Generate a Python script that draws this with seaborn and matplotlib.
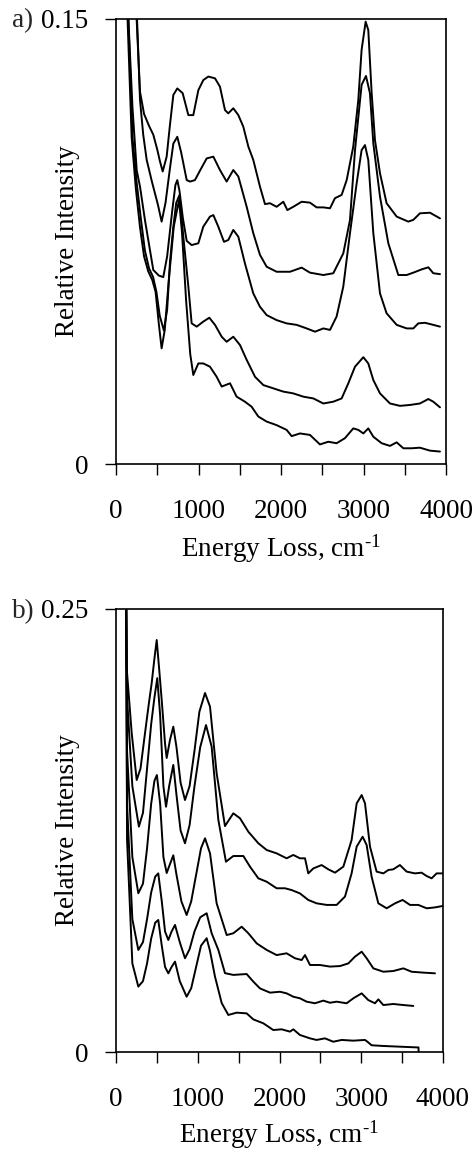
import matplotlib
matplotlib.use("Agg")
import matplotlib.pyplot as plt
import seaborn as sns

# ---------------- Panel a data (energy loss cm^-1, relative intensity) ----------------
a1_x = [150, 200, 250, 291, 340, 400, 452, 500, 533, 566, 614, 654, 695, 743, 808, 877, 937, 998, 1058, 1119,
        1200, 1260, 1321, 1361, 1422, 1483, 1543, 1604, 1664, 1745, 1806, 1866, 1947, 2028, 2077, 2149, 2250, 2351,
        2432, 2513, 2594, 2654, 2735, 2796, 2876, 2937, 2977, 3026, 3058, 3099, 3139, 3200, 3280, 3402, 3543, 3604,
        3684, 3806, 3927]
a1_y = [0.30, 0.19, 0.150, 0.1255, 0.118, 0.114, 0.111, 0.106, 0.102, 0.0986, 0.1036, 0.1143, 0.1244, 0.1266,
        0.125, 0.1176, 0.1176, 0.126, 0.1294, 0.1306, 0.130, 0.1272, 0.1193, 0.1182, 0.1199, 0.1176, 0.1137, 0.107,
        0.1025, 0.0935, 0.0876, 0.0879, 0.0867, 0.0884, 0.0856, 0.0867, 0.0884, 0.0881, 0.0865, 0.0865, 0.0862,
        0.0896, 0.0907, 0.0957, 0.107, 0.1227, 0.1396, 0.1491, 0.1463, 0.125, 0.1092, 0.098, 0.0879, 0.0834, 0.0817,
        0.0823, 0.0845, 0.0847, 0.0828]

a2_x = [150, 210, 255, 291, 330, 372, 436, 509, 553, 600, 654, 695, 743, 790, 857, 897, 957, 1020, 1099, 1180,
        1260, 1341, 1422, 1483, 1584, 1664, 1745, 1826, 1947, 2109, 2250, 2351, 2513, 2634, 2755, 2836, 2897, 2977,
        3030, 3078, 3119, 3200, 3301, 3422, 3523, 3604, 3705, 3786, 3846, 3927]
a2_y = [0.30, 0.18, 0.150, 0.1227, 0.111, 0.1025, 0.0951, 0.0873, 0.0817, 0.088, 0.0997, 0.108, 0.1103, 0.105,
        0.0957, 0.0952, 0.0957, 0.099, 0.103, 0.1036, 0.0991, 0.0952, 0.0991, 0.0969, 0.0867, 0.0778, 0.0705,
        0.0665, 0.0648, 0.0648, 0.0662, 0.0645, 0.0637, 0.0643, 0.071, 0.0822, 0.1058, 0.1278, 0.1308, 0.125,
        0.1081, 0.0901, 0.0744, 0.0637, 0.0637, 0.0645, 0.0656, 0.0663, 0.0643, 0.0640]

a3_x = [110, 150, 200, 251, 291, 351, 452, 520, 573, 620, 680, 720, 743, 770, 810, 857, 917, 998, 1058, 1139,
        1180, 1240, 1309, 1361, 1422, 1483, 1563, 1664, 1745, 1826, 1947, 2068, 2190, 2311, 2412, 2513, 2594, 2674,
        2755, 2836, 2917, 2977, 3018, 3058, 3119, 3200, 3280, 3402, 3523, 3604, 3664, 3745, 3846, 3927]
a3_y = [0.30, 0.15, 0.12, 0.099, 0.0935, 0.0822, 0.0654, 0.0635, 0.063, 0.07, 0.085, 0.094, 0.0957, 0.092, 0.083,
        0.0752, 0.0738, 0.0744, 0.080, 0.0834, 0.0839, 0.080, 0.0749, 0.0755, 0.0789, 0.0766, 0.0676, 0.0575, 0.053,
        0.0502, 0.0485, 0.0474, 0.0469, 0.0457, 0.0446, 0.0457, 0.0452, 0.0497, 0.0598, 0.0778, 0.0946, 0.1058,
        0.1075, 0.1025, 0.0778, 0.0575, 0.0508, 0.0469, 0.0457, 0.0457, 0.0474, 0.0476, 0.0469, 0.0463]

a4_x = [110, 150, 200, 250, 300, 350, 400, 450, 490, 530, 580, 620, 654, 695, 730, 770, 816, 877, 917, 978,
        1058, 1131, 1200, 1281, 1341, 1422, 1503, 1584, 1685, 1786, 1907, 2028, 2149, 2270, 2392, 2513, 2634, 2735,
        2816, 2897, 2998, 3058, 3119, 3200, 3321, 3442, 3563, 3684, 3786, 3846, 3927]
a4_y = [0.30, 0.15, 0.11, 0.095, 0.083, 0.072, 0.066, 0.063, 0.058, 0.05, 0.045, 0.052, 0.068, 0.080, 0.088,
        0.0907, 0.0766, 0.0598, 0.0474, 0.0463, 0.048, 0.0493, 0.0469, 0.0429, 0.0412, 0.0429, 0.0401, 0.0351,
        0.0294, 0.0266, 0.0255, 0.0244, 0.0238, 0.0227, 0.0221, 0.0204, 0.021, 0.0221, 0.0272, 0.0328, 0.036,
        0.0339, 0.0283, 0.0238, 0.0204, 0.0196, 0.0199, 0.0204, 0.0219, 0.021, 0.0191]

a5_x = [100, 140, 190, 240, 290, 340, 390, 440, 480, 520, 553, 590, 640, 700, 764, 800, 850, 900, 937, 998,
        1058, 1139, 1220, 1281, 1382, 1462, 1563, 1644, 1725, 1826, 1947, 2068, 2129, 2230, 2351, 2472, 2573, 2674,
        2775, 2876, 2937, 2998, 3058, 3119, 3220, 3321, 3402, 3483, 3583, 3684, 3806, 3927]
a5_y = [0.30, 0.15, 0.11, 0.093, 0.08, 0.07, 0.065, 0.062, 0.058, 0.047, 0.039, 0.045, 0.062, 0.080, 0.089,
        0.078, 0.055, 0.037, 0.030, 0.0339, 0.0339, 0.0328, 0.0294, 0.0261, 0.0272, 0.0227, 0.021, 0.0193, 0.016,
        0.0143, 0.0131, 0.0115, 0.0094, 0.0103, 0.0098, 0.0066, 0.0075, 0.007, 0.0087, 0.012, 0.0115, 0.0103,
        0.012, 0.0092, 0.007, 0.0061, 0.0073, 0.0053, 0.0053, 0.0055, 0.0045, 0.0042]

# ---------------- Panel b data ----------------
b1_x = [100, 125, 130, 192, 253, 300, 355, 400, 436, 470, 498, 530, 559, 600, 620, 660, 701, 740, 790, 844,
        900, 960, 1020, 1089, 1150, 1231, 1333, 1435, 1517, 1619, 1741, 1843, 1965, 2087, 2169, 2250, 2312, 2352,
        2414, 2515, 2597, 2679, 2781, 2882, 2944, 3005, 3046, 3107, 3188, 3270, 3331, 3392, 3473, 3555, 3657,
        3738, 3800, 3861, 3922, 3995]
b1_y = [0.40, 0.25, 0.217, 0.18, 0.1535, 0.160, 0.18, 0.196, 0.208, 0.222, 0.2325, 0.215, 0.1986, 0.174, 0.1659,
        0.176, 0.1836, 0.172, 0.152, 0.1422, 0.150, 0.170, 0.192, 0.2026, 0.1949, 0.1573, 0.1275, 0.1347, 0.1319,
        0.1243, 0.1178, 0.114, 0.1121, 0.1093, 0.1112, 0.1093, 0.1093, 0.1008, 0.1036, 0.1055, 0.1031, 0.1012,
        0.1046, 0.1196, 0.1403, 0.145, 0.1403, 0.1159, 0.1018, 0.1008, 0.1027, 0.1031, 0.1055, 0.1018, 0.1008,
        0.1012, 0.0993, 0.098, 0.1008, 0.1008]

b2_x = [100, 125, 135, 200, 280, 330, 380, 430, 470, 505, 540, 580, 612, 650, 701, 740, 790, 844, 900, 960,
        1030, 1101, 1170, 1252, 1345, 1435, 1558, 1639, 1741, 1843, 1965, 2067, 2148, 2250, 2352, 2454, 2577, 2699,
        2801, 2882, 2944, 3017, 3066, 3127, 3209, 3311, 3413, 3506, 3596, 3698, 3800, 3902, 3995]
b2_y = [0.40, 0.25, 0.20, 0.150, 0.1272, 0.135, 0.160, 0.185, 0.200, 0.211, 0.190, 0.150, 0.1384, 0.150, 0.162,
        0.145, 0.125, 0.1178, 0.128, 0.150, 0.172, 0.1845, 0.1723, 0.1309, 0.1074, 0.1106, 0.1106, 0.1046, 0.098,
        0.0961, 0.0924, 0.0924, 0.0914, 0.0895, 0.0858, 0.0839, 0.083, 0.083, 0.0877, 0.1008, 0.1159, 0.1215,
        0.1168, 0.0989, 0.0839, 0.0811, 0.0839, 0.0858, 0.083, 0.083, 0.0811, 0.0816, 0.0824]

b3_x = [100, 125, 135, 200, 273, 330, 380, 430, 470, 500, 540, 580, 620, 660, 701, 740, 800, 864, 920, 980,
        1040, 1089, 1150, 1231, 1354, 1435, 1537, 1619, 1721, 1843, 1965, 2087, 2189, 2271, 2312, 2373, 2495, 2617,
        2740, 2842, 2923, 3005, 3066, 3148, 3270, 3392, 3515, 3616, 3759, 3902]
b3_y = [0.40, 0.25, 0.17, 0.110, 0.0896, 0.095, 0.115, 0.140, 0.153, 0.1563, 0.140, 0.110, 0.101, 0.106, 0.111,
        0.100, 0.085, 0.0773, 0.085, 0.100, 0.115, 0.1206, 0.1121, 0.0839, 0.066, 0.067, 0.0707, 0.067, 0.0613,
        0.0576, 0.0547, 0.0557, 0.0529, 0.0519, 0.0547, 0.0491, 0.0491, 0.0482, 0.0485, 0.050, 0.0538, 0.0566,
        0.0529, 0.0472, 0.0453, 0.0457, 0.0472, 0.0453, 0.0448, 0.0444]

b4_x = [100, 125, 135, 200, 273, 330, 380, 430, 480, 517, 560, 600, 640, 680, 722, 780, 844, 900, 960, 1030,
        1109, 1170, 1252, 1333, 1435, 1598, 1680, 1761, 1884, 2006, 2087, 2169, 2250, 2332, 2434, 2536, 2617, 2699,
        2821, 2903, 3005, 3086, 3168, 3209, 3270, 3392, 3515, 3637]
b4_y = [0.40, 0.25, 0.14, 0.075, 0.0576, 0.062, 0.075, 0.090, 0.099, 0.1008, 0.085, 0.068, 0.0632, 0.068, 0.0717,
        0.062, 0.0529, 0.058, 0.068, 0.076, 0.0783, 0.067, 0.0576, 0.0445, 0.0435, 0.044, 0.0397, 0.0359, 0.0335,
        0.034, 0.0331, 0.0312, 0.0303, 0.0284, 0.0275, 0.029, 0.0278, 0.0284, 0.0275, 0.0303, 0.0331, 0.0293,
        0.0275, 0.0297, 0.0265, 0.0271, 0.0265, 0.026]

b5_x = [100, 125, 135, 200, 273, 330, 380, 430, 480, 517, 560, 600, 640, 680, 722, 780, 864, 920, 980, 1040,
        1109, 1150, 1211, 1293, 1374, 1476, 1598, 1680, 1802, 1924, 2026, 2128, 2169, 2250, 2373, 2454, 2556, 2658,
        2760, 2903, 3046, 3070, 3127, 3270, 3474, 3677, 3700, 3702]
b5_y = [0.40, 0.25, 0.12, 0.050, 0.0369, 0.040, 0.050, 0.064, 0.073, 0.0745, 0.060, 0.048, 0.0444, 0.048, 0.051,
        0.040, 0.0312, 0.036, 0.048, 0.060, 0.0642, 0.057, 0.0425, 0.0276, 0.0209, 0.0222, 0.0218, 0.0184, 0.0162,
        0.0124, 0.0128, 0.0115, 0.0128, 0.0096, 0.0077, 0.0068, 0.0077, 0.0058, 0.0068, 0.0064, 0.0068, 0.0060,
        0.0038, 0.0034, 0.0030, 0.0026, 0.0026, 0.0]

x_ticks = [0, 500, 1000, 1500, 2000, 2500, 3000, 3500, 4000]
x_tick_labels = ["0", "", "1000", "", "2000", "", "3000", "", "4000"]
a_yticks = [0, 0.15]
a_yticklabels = ["0", "0.15"]
b_yticks = [0, 0.25]
b_yticklabels = ["0", "0.25"]

# ---------------- Style ----------------
sns.set_theme(style="ticks")
plt.rcParams["font.family"] = ["Liberation Serif", "DejaVu Serif"]
plt.rcParams["mathtext.fontset"] = "custom"
plt.rcParams["mathtext.rm"] = "Liberation Serif"
plt.rcParams["mathtext.default"] = "regular"

FS = 19.5
W, H = 476, 1153
fig = plt.figure(figsize=(W / 100, H / 100), dpi=100)
fig.patch.set_facecolor("white")

ax_a = fig.add_axes([116 / W, 1 - 464 / H, 330 / W, 445 / H])
ax_b = fig.add_axes([116 / W, 1 - 1052 / H, 327 / W, 443 / H])

for xs, ys in [(a1_x, a1_y), (a2_x, a2_y), (a3_x, a3_y), (a4_x, a4_y), (a5_x, a5_y)]:
    sns.lineplot(x=xs, y=ys, ax=ax_a, color="black", linewidth=1.4, estimator=None, sort=False)
for xs, ys in [(b1_x, b1_y), (b2_x, b2_y), (b3_x, b3_y), (b4_x, b4_y), (b5_x, b5_y)]:
    sns.lineplot(x=xs, y=ys, ax=ax_b, color="black", linewidth=1.4, estimator=None, sort=False)


def style_axis(ax, ymax, yticks, yticklabels, label_y_a, xlabel_y):
    ax.set_facecolor("white")
    ax.set_xlim(0, 4000)
    ax.set_ylim(0, ymax)
    ax.set_xticks(x_ticks)
    ax.set_xticklabels(x_tick_labels)
    ax.set_yticks(yticks)
    ax.set_yticklabels(yticklabels)
    ax.tick_params(axis="x", direction="out", length=8, width=1.0, colors="black", labelsize=FS, pad=17)
    ax.tick_params(axis="y", direction="out", length=8, width=1.0, colors="black", labelsize=FS, pad=12)
    for s in ax.spines.values():
        s.set_visible(True)
        s.set_color("black")
        s.set_linewidth(1.2)
    ax.set_xlabel(r"Energy Loss, cm$^{\text{-1}}$", fontsize=FS, color="black")
    ax.set_ylabel("Relative Intensity", fontsize=FS, color="black")
    ax.xaxis.label.set_va("center")
    ax.yaxis.label.set_va("center")
    ax.yaxis.set_label_coords(label_y_a, 0.5)
    ax.xaxis.set_label_coords(0.5, xlabel_y)
    ax.grid(False)


style_axis(ax_a, 0.15, a_yticks, a_yticklabels, (67 - 116) / 330, -(549 - 464) / 445)
style_axis(ax_b, 0.25, b_yticks, b_yticklabels, (67 - 116) / 327, -(1135 - 1052) / 443)

fig.text(12 / W, 1 - 21 / H, "a)", fontsize=FS, ha="left", va="center")
fig.text(12 / W, 1 - 612 / H, "b)", fontsize=FS, ha="left", va="center")

fig.savefig("out.png", dpi=100, facecolor="white")
